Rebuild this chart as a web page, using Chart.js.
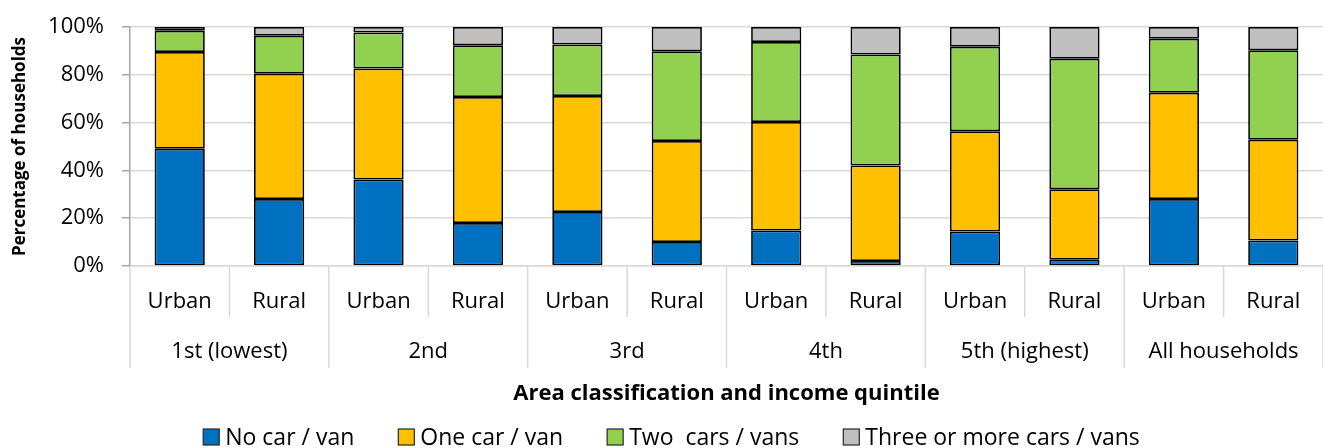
<!DOCTYPE html>
<html>
<head>
<meta charset="utf-8">
<script src="https://cdn.jsdelivr.net/npm/chart.js@4.4.1/dist/chart.umd.min.js"></script>
<style>
  html, body { margin: 0; padding: 0; background: #fff; }
  #wrap { width: 1323px; height: 448px; position: relative; }
</style>
</head>
<body>
<div id="wrap"><canvas id="chart-area"></canvas></div>
<script>
var areas = ['Urban', 'Rural', 'Urban', 'Rural', 'Urban', 'Rural', 'Urban', 'Rural', 'Urban', 'Rural', 'Urban', 'Rural'];
var quintiles = ['1st (lowest)', '2nd', '3rd', '4th', '5th (highest)', 'All households'];

// percentages of households
var noCar    = [49.1, 28.0, 36.2, 18.0, 22.6, 10.0, 14.9,  2.1, 14.4,  2.6, 28.0, 10.7];
var oneCar   = [40.4, 52.4, 46.4, 52.7, 48.5, 42.3, 45.4, 40.0, 42.0, 29.5, 44.5, 42.1];
var twoCars  = [ 8.9, 15.9, 15.1, 21.7, 21.6, 37.6, 33.4, 46.4, 35.3, 54.6, 22.6, 37.5];
var threeCars = [1.6,  3.7,  2.3,  7.6,  7.3, 10.1,  6.3, 11.5,  8.3, 13.3,  4.9,  9.7];

var yTicks = [0, 20, 40, 60, 80, 100];

var FONT = '"Open Sans"';
Chart.defaults.font.family = FONT;
Chart.defaults.font.size = 22;
Chart.defaults.color = '#000';

// separators and quintile labels under the axis
var groupLabels = {
    id: 'groupLabels',
    afterDraw: function(chart) {
        var x = chart.scales.x;
        var ctx = chart.ctx;
        var half = (x.getPixelForValue(1) - x.getPixelForValue(0)) / 2;
        var top = chart.chartArea.bottom;
        ctx.save();
        ctx.strokeStyle = '#d9d9d9';
        ctx.lineWidth = 1.5;
        for (var i = 0; i <= areas.length; i++) {
            var px = (i < areas.length ? x.getPixelForValue(i) - half : x.getPixelForValue(i - 1) + half);
            var len = (i % 2 == 0) ? 102 : 51;
            ctx.beginPath();
            ctx.moveTo(px, top);
            ctx.lineTo(px, top + len);
            ctx.stroke();
        }
        ctx.fillStyle = '#000';
        ctx.font = '22px ' + FONT;
        ctx.textAlign = 'center';
        ctx.textBaseline = 'middle';
        for (var g = 0; g < quintiles.length; g++) {
            var cx = (x.getPixelForValue(2 * g) + x.getPixelForValue(2 * g + 1)) / 2;
            ctx.fillText(quintiles[g], cx, top + 86);
        }
        ctx.restore();
    }
};

// legend row, Excel style (wide gaps between items)
var bottomLegend = {
    id: 'bottomLegend',
    afterDraw: function(chart) {
        var ctx = chart.ctx;
        var sets = chart.data.datasets;
        var box = 16, gap = 6, space = 44;
        var y = chart.height - 11;
        ctx.save();
        ctx.font = '23px ' + FONT;
        var widths = sets.map(function(d) { return ctx.measureText(d.label).width; });
        var total = widths.reduce(function(a, b) { return a + b; }, 0) + sets.length * (box + gap) + (sets.length - 1) * space;
        var xPos = chart.width / 2 + 10 - total / 2;
        ctx.textBaseline = 'middle';
        ctx.textAlign = 'left';
        sets.forEach(function(d, i) {
            ctx.fillStyle = d.backgroundColor;
            ctx.fillRect(xPos, y - box / 2, box, box);
            ctx.strokeStyle = '#262626';
            ctx.lineWidth = 1.2;
            ctx.strokeRect(xPos, y - box / 2, box, box);
            ctx.fillStyle = '#000';
            ctx.fillText(d.label, xPos + box + gap, y + 1);
            xPos += box + gap + widths[i] + space;
        });
        ctx.restore();
    }
};

function makeSet(label, data, colour) {
    return {
        label: label,
        data: data,
        backgroundColor: colour,
        borderColor: '#000',
        borderWidth: 1.75,
        borderSkipped: false,
        categoryPercentage: 1,
        barPercentage: 0.505
    };
}

var ctx = document.getElementById('chart-area').getContext('2d');
var config = {
    type: 'bar',
    data: {
        labels: areas,
        datasets: [
            makeSet('No car / van', noCar, '#0070C0'),
            makeSet('One car / van', oneCar, '#FFC000'),
            makeSet('Two  cars / vans', twoCars, '#92D050'),
            makeSet('Three or more cars / vans', threeCars, '#BFBFBF')
        ]
    },
    options: {
        responsive: true,
        maintainAspectRatio: false,
        animation: false,
        layout: { padding: { top: 27, right: 0, left: 0, bottom: 40 } },
        scales: {
            x: {
                stacked: true,
                grid: { display: false },
                border: { color: '#d9d9d9', width: 1.5 },
                ticks: { padding: 15, maxRotation: 0, autoSkip: false },
                title: {
                    display: true,
                    text: 'Area classification and income quintile',
                    font: { weight: 'bold', size: 22 },
                    padding: { top: 0, bottom: 1 }
                },
                afterFit: function(scale) { scale.height = 142; }
            },
            y: {
                stacked: true,
                min: 0,
                max: 100,
                afterBuildTicks: function(scale) {
                    scale.ticks = yTicks.map(function(v) { return { value: v }; });
                },
                grid: { color: '#d9d9d9', lineWidth: 1.5, tickLength: 8, tickColor: '#a6a6a6' },
                border: { color: '#a6a6a6', width: 1.5 },
                ticks: {
                    padding: 18,
                    callback: function(v) { return v + '%'; }
                },
                title: {
                    display: true,
                    text: 'Percentage of households',
                    font: { weight: 'bold', size: 17 },
                    padding: { top: 10, bottom: 0 }
                },
                afterFit: function(scale) {
                    scale.width = 130;
                    // the tick labels fit inside the top padding already
                    scale.paddingTop = 0;
                    scale.paddingBottom = 0;
                }
            }
        },
        plugins: {
            legend: { display: false },
            tooltip: { enabled: false }
        }
    },
    plugins: [groupLabels, bottomLegend]
};
window.myBar = new Chart(ctx, config);
</script>
</body>
</html>
